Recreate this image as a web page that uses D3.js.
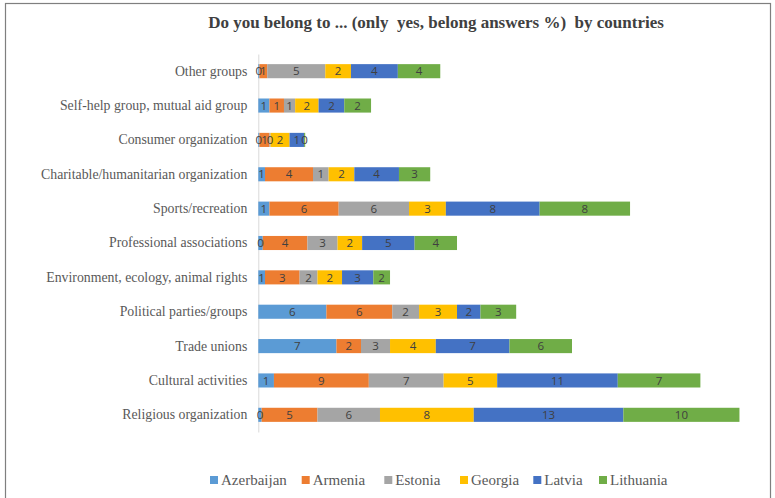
<!DOCTYPE html>
<html>
<head>
<meta charset="utf-8">
<script src="https://cdn.jsdelivr.net/npm/d3@7"></script>
<style>
  html, body { margin: 0; padding: 0; background: #fff; }
  svg { display: block; }
</style>
</head>
<body>
<svg id="chart" width="775" height="498"></svg>
<script>
// Membership shares (% answering "yes, belong") per organisation type
const categories = [
  "Other groups",
  "Self-help group, mutual aid group",
  "Consumer organization",
  "Charitable/humanitarian organization",
  "Sports/recreation",
  "Professional associations",
  "Environment, ecology, animal rights",
  "Political parties/groups",
  "Trade unions",
  "Cultural activities",
  "Religious organization"
];
const countries = ["Azerbaijan", "Armenia", "Estonia", "Georgia", "Latvia", "Lithuania"];
const colors = ["#5B9BD5", "#ED7D31", "#A5A5A5", "#FFC000", "#4472C4", "#70AD47"];

const azerbaijan = [0.1, 1.0, 0.1, 0.6, 1.0, 0.4, 0.6, 6.1, 7.0, 1.4, 0.3];
const armenia    = [0.7, 1.3, 0.9, 4.3, 6.2, 4.0, 3.1, 5.9, 2.2, 8.5, 5.0];
const estonia    = [5.2, 1.0, 0.1, 1.4, 6.3, 2.7, 1.6, 2.4, 2.6, 6.7, 5.6];
const georgia    = [2.3, 2.1, 1.7, 2.3, 3.3, 2.2, 2.2, 3.4, 4.1, 4.8, 8.4];
const latvia     = [4.2, 2.3, 1.3, 4.0, 8.4, 4.7, 2.8, 2.1, 6.6, 10.8, 13.4];
const lithuania  = [3.8, 2.4, 0.1, 2.8, 8.1, 3.8, 1.5, 3.2, 5.6, 7.4, 10.4];

const seriesValues = [azerbaijan, armenia, estonia, georgia, latvia, lithuania];

const titleText = "Do you belong to ... (only  yes, belong answers %)  by countries";

const svg = d3.select("#chart");

// outer frame
svg.append("rect")
  .attr("x", 5.5).attr("y", 3.5)
  .attr("width", 765).attr("height", 520)
  .attr("fill", "#fff")
  .attr("stroke", "#7f7f7f")
  .attr("stroke-width", 1.2);

// title
svg.append("text")
  .attr("x", 436).attr("y", 28)
  .attr("text-anchor", "middle")
  .attr("font-family", "'Liberation Serif', 'Times New Roman', serif")
  .attr("font-weight", "bold")
  .attr("font-size", 17)
  .attr("fill", "#404040")
  .style("white-space", "pre")
  .text(titleText);

// build stacked rows
const rows = categories.map((c, i) => {
  const r = { category: c };
  countries.forEach((k, j) => { r[k] = seriesValues[j][i]; });
  return r;
});
const stacked = d3.stack().keys(countries)(rows);

const x = d3.scaleLinear().domain([0, 44]).range([258.3, 749.5]);
const y = d3.scaleBand().domain(categories).range([54, 432]).paddingInner(0.59).paddingOuter(0.295);

// category axis
const yAxis = d3.axisLeft(y).tickSize(0).tickPadding(11);
const gy = svg.append("g")
  .attr("transform", `translate(${x(0)},0)`)
  .call(yAxis);
gy.select(".domain").attr("stroke", "#d9d9d9").attr("stroke-width", 1);
gy.selectAll("text")
  .attr("font-family", "'Liberation Serif', 'Times New Roman', serif")
  .attr("font-size", 13.8)
  .attr("fill", "#595959");

// bars
const layer = svg.append("g").selectAll("g")
  .data(stacked)
  .join("g")
  .attr("fill", (d, i) => colors[i]);

layer.selectAll("rect")
  .data(d => d)
  .join("rect")
  .attr("x", d => x(d[0]))
  .attr("y", d => y(d.data.category))
  .attr("width", d => x(d[1]) - x(d[0]))
  .attr("height", y.bandwidth());

// value labels, centred in each segment
const fmt = v => String(Math.round(v));
const labels = svg.append("g").selectAll("g")
  .data(stacked)
  .join("g");
labels.selectAll("text")
  .data(d => d.map(p => ({ p, key: d.key })))
  .join("text")
  .attr("x", d => (x(d.p[0]) + x(d.p[1])) / 2)
  .attr("y", d => y(d.p.data.category) + y.bandwidth() / 2)
  .attr("dy", "0.36em")
  .attr("text-anchor", "middle")
  .attr("font-family", "'Open Sans', 'Liberation Sans', sans-serif")
  .attr("font-size", 11.5)
  .attr("fill", "#404040")
  .text(d => fmt(d.p.data[d.key]));

// legend
const legendX = [210, 301.7, 384.3, 460, 533.3, 599];
const legend = svg.append("g").selectAll("g")
  .data(countries)
  .join("g")
  .attr("transform", (d, i) => `translate(${legendX[i]},480)`);
legend.append("rect")
  .attr("x", 0).attr("y", -4)
  .attr("width", 8).attr("height", 8)
  .attr("fill", (d, i) => colors[i]);
legend.append("text")
  .attr("x", 11).attr("y", 0)
  .attr("dy", "0.35em")
  .attr("font-family", "'Liberation Serif', 'Times New Roman', serif")
  .attr("font-size", 15)
  .attr("fill", "#595959")
  .text(d => d);
</script>
</body>
</html>
